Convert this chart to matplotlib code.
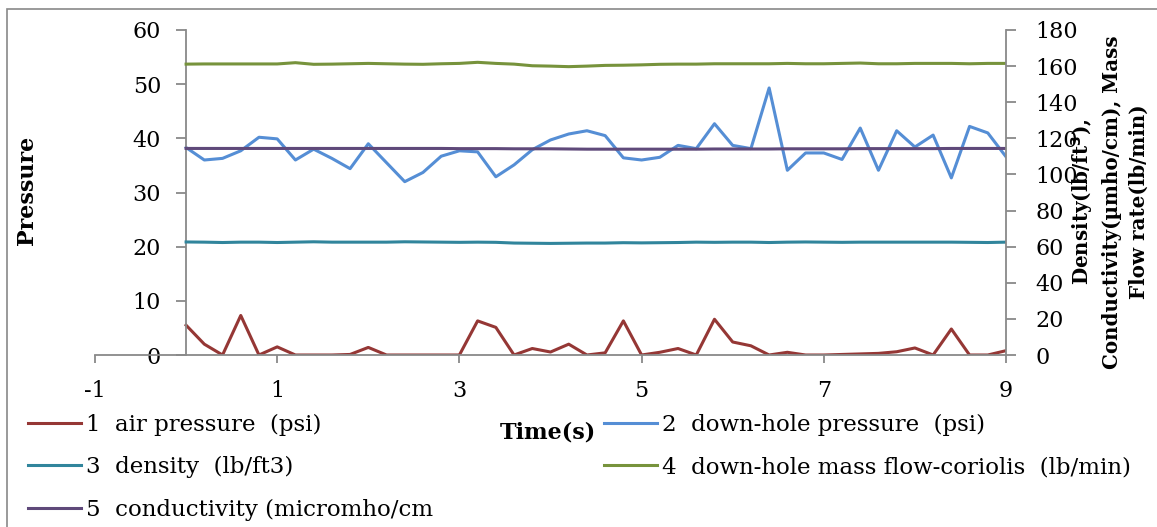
import matplotlib
matplotlib.use('Agg')
import matplotlib.pyplot as plt
from matplotlib.patches import Rectangle
import numpy as np

plt.rcParams['font.family'] = ['DejaVu Serif']
plt.rcParams['axes.unicode_minus'] = False

# time axis (s), one sample every 0.2 s
time_s = np.round(np.arange(0, 9.01, 0.2), 1)

air_pressure = [5.5, 2.0, 0.0, 7.3, 0.0, 1.5, 0.0, 0.0, 0.0, 0.1,
                1.4, 0.0, 0.0, 0.0, 0.0, 0.0, 6.3, 5.1, 0.0, 1.2,
                0.55, 2.0, 0.0, 0.4, 6.3, 0.0, 0.5, 1.2, 0.0, 6.6,
                2.4, 1.7, 0.0, 0.5, 0.0, 0.0, 0.1, 0.2, 0.3, 0.6,
                1.3, 0.0, 4.8, 0.0, 0.0, 0.8]
downhole_pressure = [38.3, 36.0, 36.3, 37.7, 40.2, 39.9, 36.0, 38.0, 36.3, 34.4,
                     39.0, 35.5, 32.0, 33.7, 36.7, 37.7, 37.5, 32.9, 35.1, 37.9,
                     39.7, 40.8, 41.4, 40.5, 36.4, 36.0, 36.5, 38.7, 38.1, 42.7,
                     38.7, 38.1, 49.3, 34.1, 37.3, 37.3, 36.1, 41.9, 34.1, 41.4,
                     38.4, 40.6, 32.7, 42.2, 41.0, 36.6]
density = [62.6, 62.5, 62.3, 62.5, 62.5, 62.3, 62.5, 62.7, 62.5, 62.5,
           62.5, 62.5, 62.7, 62.6, 62.5, 62.4, 62.5, 62.4, 62.0, 61.9,
           61.8, 61.9, 62.0, 62.0, 62.2, 62.1, 62.2, 62.3, 62.5, 62.4,
           62.5, 62.5, 62.3, 62.5, 62.6, 62.5, 62.4, 62.5, 62.5, 62.5,
           62.5, 62.5, 62.5, 62.4, 62.3, 62.5]
mass_flow = [161.1, 161.2, 161.2, 161.2, 161.2, 161.2, 161.9, 161.0, 161.1, 161.3,
             161.5, 161.3, 161.1, 161.0, 161.3, 161.5, 162.1, 161.5, 161.1, 160.2,
             160.0, 159.7, 160.0, 160.4, 160.5, 160.7, 161.0, 161.1, 161.1, 161.3,
             161.3, 161.3, 161.3, 161.5, 161.3, 161.3, 161.5, 161.7, 161.3, 161.3,
             161.5, 161.5, 161.5, 161.3, 161.5, 161.5]
conductivity = [114.4, 114.4, 114.4, 114.4, 114.4, 114.4, 114.4, 114.4, 114.4, 114.4,
                114.4, 114.4, 114.4, 114.4, 114.4, 114.3, 114.3, 114.3, 114.2, 114.2,
                114.2, 114.1, 114.0, 114.0, 114.0, 114.0, 114.0, 114.0, 114.0, 114.1,
                114.1, 114.1, 114.1, 114.2, 114.2, 114.2, 114.2, 114.3, 114.3, 114.3,
                114.3, 114.3, 114.4, 114.4, 114.4, 114.4]

labels = ['1  air pressure  (psi)', '2  down-hole pressure  (psi)',
          '3  density  (lb/ft3)', '4  down-hole mass flow-coriolis  (lb/min)',
          '5  conductivity (micromho/cm']
colors = ['#953735', '#558ED5', '#31859C', '#77933C', '#5F497A']

x_ticks = [-1, 1, 3, 5, 7, 9]
left_ticks = [0, 10, 20, 30, 40, 50, 60]
right_ticks = [0, 20, 40, 60, 80, 100, 120, 140, 160, 180]

W, H = 1157, 527
fig = plt.figure(figsize=(W / 100, H / 100), dpi=100)
fig.patch.set_facecolor('white')

ax = fig.add_axes([95 / W, 1 - 355 / H, (1006 - 95) / W, (355 - 30) / H])
ax2 = ax.twinx()

lw = 2.2
l1, = ax.plot(time_s, air_pressure, color=colors[0], lw=lw)
l2, = ax.plot(time_s, downhole_pressure, color=colors[1], lw=lw)
l3, = ax2.plot(time_s, density, color=colors[2], lw=lw)
l4, = ax2.plot(time_s, mass_flow, color=colors[3], lw=lw)
l5, = ax2.plot(time_s, conductivity, color=colors[4], lw=lw)

ax.set_xlim(-1, 9)
ax.set_ylim(0, 60)
ax2.set_ylim(0, 180)
ax.set_xticks(x_ticks)
ax.set_yticks(left_ticks)
ax2.set_yticks(right_ticks)

grey = '#898989'
ax.spines['left'].set_position(('data', 0))
for s in ['top', 'right']:
    ax.spines[s].set_visible(False)
for s in ['top', 'left', 'bottom']:
    ax2.spines[s].set_visible(False)
for a in (ax, ax2):
    for s in a.spines.values():
        s.set_color(grey)
        s.set_linewidth(1.3)

ax.tick_params(axis='x', direction='out', length=6, width=1.3, color=grey,
               labelsize=16, pad=12)
ax.tick_params(axis='y', direction='out', length=7, width=1.3, color=grey,
               labelsize=16, pad=11)
ax2.tick_params(axis='y', direction='out', length=7, width=1.3, color=grey,
                labelsize=16, pad=14)

# axis titles as free text so they sit where the reference puts them
fig.text(27 / W, 1 - 190 / H, 'Pressure', fontsize=16, fontweight='bold',
         rotation=90, ha='center', va='center')
fig.text(1109 / W, 1 - 202 / H,
         'Density(lb/ft$^\\mathbf{3}$),\nConductivity(µmho/cm), Mass\nFlow rate(lb/min)',
         fontsize=14.3, fontweight='bold', rotation=90, ha='center', va='center',
         multialignment='center', linespacing=1.45)
fig.text(548 / W, 1 - 432 / H, 'Time(s)', fontsize=16, fontweight='bold',
         ha='center', va='center')

leg_kw = dict(frameon=False, fontsize=16.5, handlelength=2.3, handletextpad=0.25,
              labelspacing=0.88, borderpad=0, borderaxespad=0, loc='upper left')
fig.legend([l1, l3, l5], [labels[0], labels[2], labels[4]],
           bbox_to_anchor=(28 / W, 1 - 414 / H), **leg_kw)
fig.legend([l2, l4], [labels[1], labels[3]],
           bbox_to_anchor=(604 / W, 1 - 414 / H), **leg_kw)

fig.patches.append(Rectangle((7 / W, -0.1), 1.2, 1.1 - 9 / H,
                             transform=fig.transFigure, fill=False,
                             edgecolor=grey, lw=1.2, clip_on=False))

fig.savefig('out.png', dpi=100)
